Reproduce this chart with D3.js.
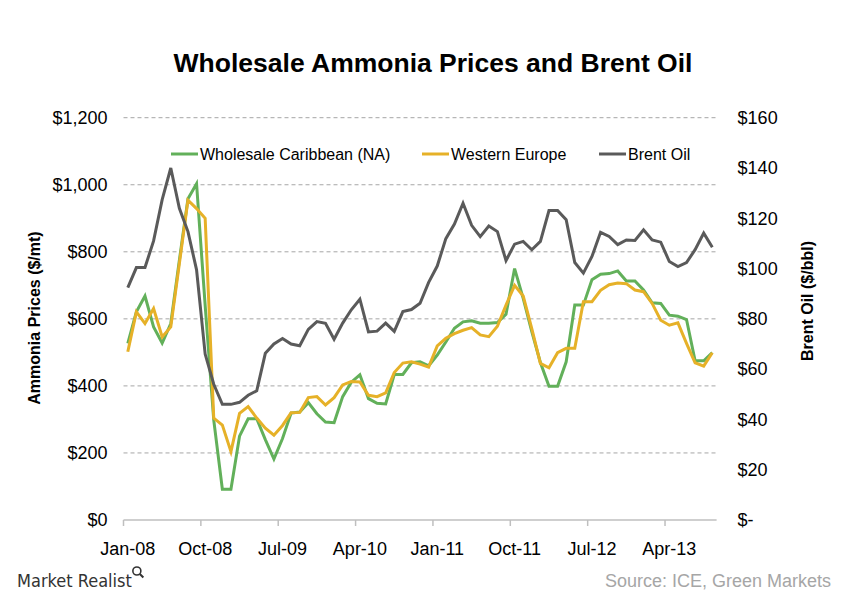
<!DOCTYPE html>
<html><head><meta charset="utf-8">
<script src="https://cdn.jsdelivr.net/npm/d3@7"></script>
<style>
html,body{margin:0;padding:0;background:#fff;}
svg{display:block;font-family:"Liberation Sans",Arial,Helvetica,sans-serif;}
</style></head>
<body><svg id="chart" width="841" height="600"></svg>
<script>
// ---- data (monthly, Jan-08 .. Sep-13) ----
const startMonth = "2008-01";
const monthCount = 69;
const tickLabels = ["Jan-08","Oct-08","Jul-09","Apr-10","Jan-11","Oct-11","Jul-12","Apr-13"];
const ammoniaTicks = [0,200,400,600,800,1000,1200];
const ammoniaTickLabels = ["$0","$200","$400","$600","$800","$1,000","$1,200"];
const oilTicks = [0,20,40,60,80,100,120,140,160];
const oilTickLabels = ["$-","$20","$40","$60","$80","$100","$120","$140","$160"];
const seriesNames = ["Wholesale Caribbean (NA)","Western Europe","Brent Oil"];

const caribbean = [527,621,668,576,528,586,775,958,1003,640,
  298,92,92,250,302,302,240,182,243,319,
  322,350,317,292,290,368,411,433,362,348,
  346,434,434,469,472,460,492,531,572,591,
  594,587,587,589,614,750,661,562,470,399,
  399,472,641,641,717,733,735,743,713,713,
  686,648,646,611,608,598,475,475,499];
const westernEurope = [502,621,586,631,546,576,765,954,929,900,
  304,283,204,318,338,304,274,253,282,320,
  321,365,368,343,365,403,413,412,372,368,
  379,440,468,472,465,456,519,542,556,566,
  574,552,547,578,641,700,668,571,467,454,
  499,512,512,651,651,685,702,707,705,686,
  681,646,596,581,588,527,469,459,499];
const brentOil = [92.4,100.4,100.4,111,127.4,140,124,114.7,99.5,66,
  54,46,46,46.8,49.6,51.4,66.3,70,72.2,70,
  69.3,75.8,78.9,78.2,71.9,78.3,83.6,87.8,74.8,75.1,
  78.3,75,82.9,83.7,86.2,94.5,101,111.9,117.7,126,
  117.2,112.7,116.9,114.7,103.2,109.7,110.8,107.5,110.8,123.1,
  123.1,119.4,102.4,98.2,104.8,114.4,112.8,109.5,111.4,111.2,
  115.4,111.4,110.5,102.8,100.8,102.4,107.5,114.1,108.5];

// ---- layout ----
const colors = ["#62b05a","#e6b128","#5a5a5a"];
const svg = d3.select("#chart");
const plot = {left:123.5, right:716.6, top:117.7, bottom:520};

const x = d3.scaleLinear().domain([0, monthCount]).range([plot.left, plot.right]);
const yA = d3.scaleLinear().domain([0,1200]).range([plot.bottom, plot.top]);
const yO = d3.scaleLinear().domain([0,160]).range([plot.bottom, plot.top]);

// title
svg.append("text").attr("x",433).attr("y",72).attr("text-anchor","middle")
  .attr("font-size",26.5).attr("font-weight","bold").attr("fill","#000")
  .text("Wholesale Ammonia Prices and Brent Oil");

// gridlines
svg.append("g").selectAll("line").data(ammoniaTicks.filter(d=>d>0)).join("line")
  .attr("x1",plot.left).attr("x2",plot.right)
  .attr("y1",d=>yA(d)).attr("y2",d=>yA(d))
  .attr("stroke","#a6a6a6").attr("stroke-width",1).attr("stroke-dasharray","4,3");

// left axis labels
const leftAxis = d3.axisLeft(yA).tickValues(ammoniaTicks)
  .tickFormat((d,i)=>ammoniaTickLabels[i]).tickSize(0).tickPadding(16);
const gl = svg.append("g").attr("transform",`translate(${plot.left},0)`).call(leftAxis);
gl.select(".domain").remove();
gl.selectAll("text").attr("font-size",18).attr("fill","#000")
  .attr("font-family","'Liberation Sans',Arial,sans-serif");

// right axis labels
const rightAxis = d3.axisRight(yO).tickValues(oilTicks)
  .tickFormat((d,i)=>oilTickLabels[i]).tickSize(0).tickPadding(21);
const gr = svg.append("g").attr("transform",`translate(${plot.right},0)`).call(rightAxis);
gr.select(".domain").remove();
gr.selectAll("text").attr("font-size",18).attr("fill","#000")
  .attr("font-family","'Liberation Sans',Arial,sans-serif");

// x axis
const tickIdx = d3.range(0, monthCount, 9);
svg.append("line").attr("x1",plot.left).attr("x2",plot.right)
  .attr("y1",plot.bottom).attr("y2",plot.bottom)
  .attr("stroke","#bfbfbf").attr("stroke-width",1.5);
svg.append("g").selectAll("line").data(tickIdx).join("line")
  .attr("x1",d=>x(d)).attr("x2",d=>x(d))
  .attr("y1",plot.bottom).attr("y2",plot.bottom+6)
  .attr("stroke","#bfbfbf").attr("stroke-width",1.5);
svg.append("g").selectAll("text").data(tickIdx).join("text")
  .attr("x",d=>x(d+0.5)).attr("y",555).attr("text-anchor","middle")
  .attr("font-size",18).attr("fill","#000")
  .text((d,i)=>tickLabels[i]);

// axis titles
svg.append("text").attr("transform","translate(40,318) rotate(-90)")
  .attr("text-anchor","middle").attr("font-size",16).attr("font-weight","bold")
  .text("Ammonia Prices ($/mt)");
svg.append("text").attr("transform","translate(813,301) rotate(-90)")
  .attr("text-anchor","middle").attr("font-size",16).attr("font-weight","bold")
  .text("Brent Oil ($/bbl)");

// lines
const idx = d3.range(monthCount);
const series = [
  {vals:caribbean, y:yA},
  {vals:westernEurope, y:yA},
  {vals:brentOil, y:yO}
];
series.forEach((s,k)=>{
  svg.append("path").datum(idx)
    .attr("d", d3.line().x(i=>x(i+0.5)).y(i=>s.y(s.vals[i])))
    .attr("fill","none").attr("stroke",colors[k]).attr("stroke-width",3)
    .attr("stroke-linejoin","miter").attr("stroke-linecap","butt");
});

// legend
const legendX = [171, 422, 599];
const lg = svg.append("g");
seriesNames.forEach((n,k)=>{
  lg.append("line").attr("x1",legendX[k]).attr("x2",legendX[k]+27)
    .attr("y1",154).attr("y2",154).attr("stroke",colors[k]).attr("stroke-width",3);
  lg.append("text").attr("x",legendX[k]+29).attr("y",160)
    .attr("font-size",16).attr("fill","#000").text(n);
});

// footer
const brand = svg.append("text").attr("x",17).attr("y",587)
  .attr("font-family","'Liberation Sans Narrow','DejaVu Sans Condensed',Arial,sans-serif")
  .attr("font-size",18).attr("fill","#333").text("Market Realist");
const bw = brand.node().getComputedTextLength();
const mg = svg.append("g").attr("transform",`translate(${17+bw+5},571)`);
mg.append("circle").attr("r",4).attr("fill","none").attr("stroke","#333").attr("stroke-width",1.6);
mg.append("line").attr("x1",3).attr("y1",3).attr("x2",6.5).attr("y2",6.5)
  .attr("stroke","#333").attr("stroke-width",2);
svg.append("text").attr("x",831).attr("y",587).attr("text-anchor","end")
  .attr("font-size",18).attr("fill","#a6a6a6").text("Source: ICE, Green Markets");
</script></body></html>
